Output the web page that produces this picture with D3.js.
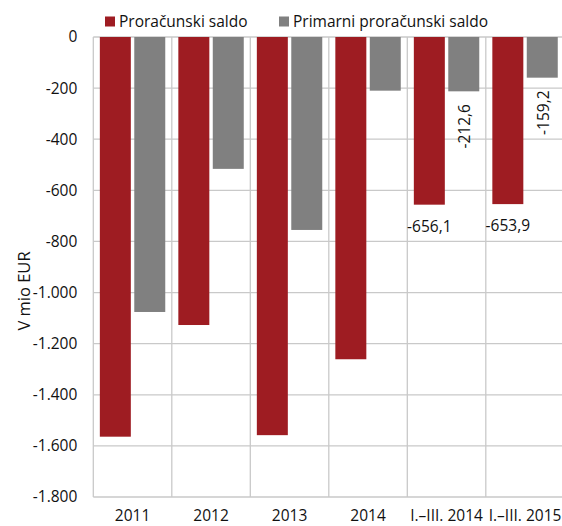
<!DOCTYPE html>
<html>
<head>
<meta charset="utf-8">
<script src="https://cdn.jsdelivr.net/npm/d3@7"></script>
<style>
  html, body { margin: 0; padding: 0; background: #fff; }
  svg { display: block; font-family: "Open Sans", sans-serif; }
</style>
</head>
<body>
<script>
const categories = ["2011", "2012", "2013", "2014", "I.–III. 2014", "I.–III. 2015"];
const seriesNames = ["Proračunski saldo", "Primarni proračunski saldo"];
const proracunskiSaldo = [-1564, -1127, -1558, -1261, -656.1, -653.9];
const primarniSaldo = [-1076, -516, -755, -210, -212.6, -159.2];
const yTicks = [0, -200, -400, -600, -800, -1000, -1200, -1400, -1600, -1800];
const labelledCategories = ["I.–III. 2014", "I.–III. 2015"];
const colors = ["#9E1C22", "#808080"];

const W = 562, H = 526;
const margin = { left: 93.3, top: 37, right: -2.3, bottom: 29 };

const svg = d3.select("body").append("svg").attr("width", W).attr("height", H);

const x0 = d3.scaleBand().domain(categories).range([margin.left, W - margin.right]).padding(0);
const x1 = d3.scaleBand().domain(seriesNames).range([0, x0.bandwidth()]).paddingInner(0.1).paddingOuter(0.19);
const y = d3.scaleLinear().domain([0, -1800]).range([margin.top, H - margin.bottom]);

const fmtTick = v => v === 0 ? "0" : d3.format(",")(v).replace(/,/g, ".").replace("−", "-");
const fmtLabel = v => String(v).replace(".", ",");

const grid = svg.append("g");
grid.selectAll("line.h").data(yTicks).join("line")
  .attr("x1", margin.left).attr("x2", W + 5)
  .attr("y1", d => y(d)).attr("y2", d => y(d))
  .attr("stroke", "#c9c9c9").attr("stroke-width", 1.3);
grid.selectAll("line.v").data(categories).join("line")
  .attr("x1", d => x0(d)).attr("x2", d => x0(d))
  .attr("y1", y(0)).attr("y2", y(-1800))
  .attr("stroke", "#c9c9c9").attr("stroke-width", 1.3);

const yAxis = d3.axisLeft(y).tickValues(yTicks).tickFormat(fmtTick).tickSize(0).tickPadding(16);
const ya = svg.append("g").attr("transform", `translate(${margin.left},0)`).call(yAxis);
ya.select(".domain").remove();
ya.selectAll("text").attr("font-size", 15.5).attr("fill", "#111").attr("font-family", "Open Sans");

const xAxis = d3.axisBottom(x0).tickSize(0).tickPadding(13);
const xa = svg.append("g").attr("transform", `translate(0,${y(-1800)})`).call(xAxis);
xa.select(".domain").remove();
xa.selectAll("text").attr("font-size", 15.5).attr("fill", "#111").attr("font-family", "Open Sans");

const data = categories.map((c, i) => ({ cat: c, values: [proracunskiSaldo[i], primarniSaldo[i]] }));
const groups = svg.append("g").selectAll("g").data(data).join("g")
  .attr("transform", d => `translate(${x0(d.cat)},0)`);
groups.selectAll("rect").data(d => d.values.map((v, j) => ({ s: seriesNames[j], v, j }))).join("rect")
  .attr("x", d => x1(d.s)).attr("width", x1.bandwidth())
  .attr("y", y(0)).attr("height", d => y(d.v) - y(0))
  .attr("fill", d => colors[d.j]);

const lab = svg.append("g").attr("font-size", 15.5).attr("fill", "#111");
categories.forEach((c, i) => {
  if (!labelledCategories.includes(c)) return;
  const cx0 = x0(c) + x1(seriesNames[0]) + x1.bandwidth() / 2;
  lab.append("text").attr("x", cx0).attr("y", y(proracunskiSaldo[i]) + 27)
    .attr("text-anchor", "middle").text(fmtLabel(proracunskiSaldo[i]));
  const cx1 = x0(c) + x1(seriesNames[1]) + x1.bandwidth() / 2;
  const cy1 = y(primarniSaldo[i]) + 35;
  lab.append("text").attr("transform", `translate(${cx1 + 1},${cy1}) rotate(-90)`)
    .attr("text-anchor", "middle").attr("dy", "0.35em").text(fmtLabel(primarniSaldo[i]));
});

svg.append("text").attr("transform", "translate(24,291) rotate(-90)")
  .attr("text-anchor", "middle").attr("dy", "0.35em")
  .attr("font-size", 16.5).attr("fill", "#111").text("V mio EUR");

const legendX = [105, 279];
const leg = svg.append("g");
seriesNames.forEach((s, j) => {
  leg.append("rect").attr("x", legendX[j]).attr("y", 16.5).attr("width", 10).attr("height", 10).attr("fill", colors[j]);
  leg.append("text").attr("x", legendX[j] + 14).attr("y", 26.5)
    .attr("font-size", 15.5).attr("fill", "#111").text(s);
});
</script>
</body>
</html>
